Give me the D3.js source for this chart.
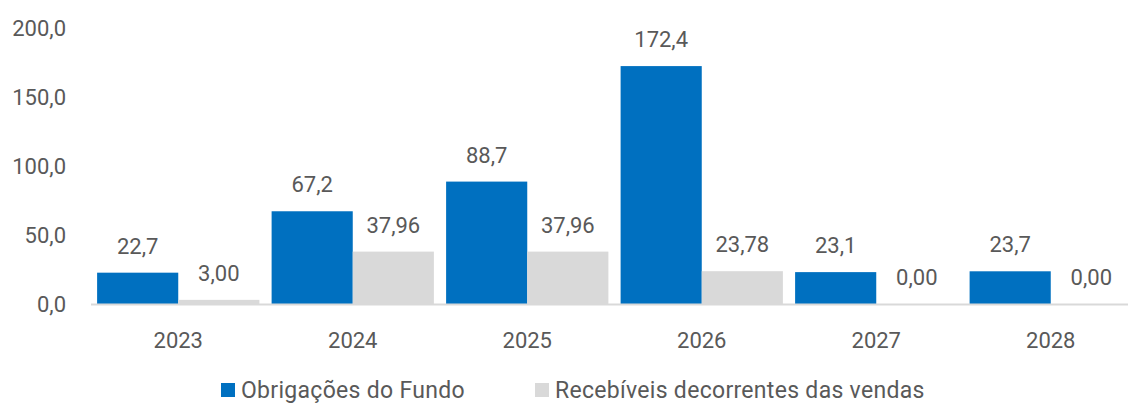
<!DOCTYPE html>
<html lang="pt">
<head>
  <meta charset="UTF-8">
  <title>Obrigações do Fundo x Recebíveis</title>
  <style>
    * { box-sizing: border-box; margin: 0; }
    body { background: #fff; width: 1128px; height: 403px; overflow: hidden; }
    svg { display: block; font-family: "Roboto", "DejaVu Sans", sans-serif; }
    text { fill: #595959; }
  </style>
</head>
<body>
  <svg></svg>
  <script src="https://d3js.org/d3.v7.min.js"></script>
  <script>
    const years = ['2023', '2024', '2025', '2026', '2027', '2028'];
    const obrigacoes = [22.7, 67.2, 88.7, 172.4, 23.1, 23.7];
    const recebiveis = [3.00, 37.96, 37.96, 23.78, 0.00, 0.00];
    const yTicks = [0, 50, 100, 150, 200];
    const seriesNames = ['Obrigações do Fundo', 'Recebíveis decorrentes das vendas'];
    const colors = ['#0070C0', '#D9D9D9'];

    const width = 1128;
    const height = 403;
    const svg = d3.select('svg').attr('width', width).attr('height', height);

    const x = d3.scaleBand().domain(years).range([91, 1138]).paddingInner(0.07).paddingOuter(0.035);
    const x1 = d3.scaleBand().domain([0, 1]).range([0, x.bandwidth()]);
    const y = d3.scaleLinear().domain([0, 200]).range([304, 28]);

    const fmt1 = v => d3.format('.1f')(v).replace('.', ',');
    const fmt2 = v => d3.format('.2f')(v).replace('.', ',');

    // y axis labels (no line)
    svg.append('g')
      .selectAll('text')
      .data(yTicks)
      .join('text')
      .attr('x', 66)
      .attr('y', d => y(d))
      .attr('dy', '0.35em')
      .attr('text-anchor', 'end')
      .attr('font-size', 22)
      .text(fmt1);

    const groups = svg.append('g')
      .selectAll('g')
      .data(years)
      .join('g')
      .attr('transform', d => 'translate(' + x(d) + ',0)');

    const rows = [obrigacoes, recebiveis];
    const fmts = [fmt1, fmt2];

    rows.forEach((vals, s) => {
      groups.append('rect')
        .attr('x', x1(s))
        .attr('width', x1.bandwidth())
        .attr('y', (d, i) => y(vals[i]))
        .attr('height', (d, i) => y(0) - y(vals[i]))
        .attr('fill', colors[s]);

      groups.append('text')
        .attr('x', x1(s) + x1.bandwidth() / 2)
        .attr('y', (d, i) => y(vals[i]) - 19)
        .attr('text-anchor', 'middle')
        .attr('font-size', 22)
        .text((d, i) => fmts[s](vals[i]));
    });

    // baseline
    svg.append('line')
      .attr('x1', 91).attr('x2', width)
      .attr('y1', y(0) + 0.5).attr('y2', y(0) + 0.5)
      .attr('stroke', '#D9D9D9')
      .attr('stroke-width', 2);

    // category labels
    svg.append('g')
      .selectAll('text')
      .data(years)
      .join('text')
      .attr('x', d => x(d) + x.bandwidth() / 2)
      .attr('y', 340)
      .attr('dy', '0.35em')
      .attr('text-anchor', 'middle')
      .attr('font-size', 22)
      .text(d => d);

    // legend
    const legendX = [221, 535];
    const legend = svg.append('g')
      .selectAll('g')
      .data(seriesNames)
      .join('g')
      .attr('transform', (d, i) => 'translate(' + legendX[i] + ',383)');

    legend.append('rect')
      .attr('width', 14).attr('height', 14)
      .attr('fill', (d, i) => colors[i]);

    legend.append('text')
      .attr('x', 20)
      .attr('y', 7)
      .attr('dy', '0.35em')
      .attr('font-size', 23)
      .attr('letter-spacing', 0.3)
      .text(d => d);
  </script>
</body>
</html>
